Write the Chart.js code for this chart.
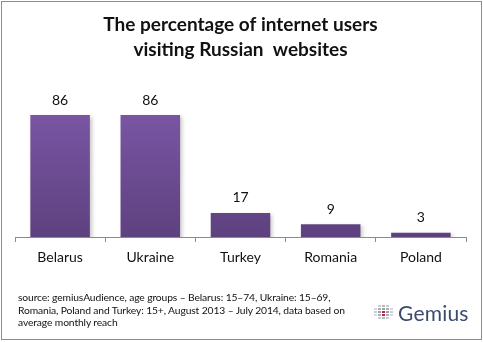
<!DOCTYPE html>
<html>
<head>
<meta charset="utf-8">
<script src="https://cdn.jsdelivr.net/npm/chart.js@4"></script>
<style>
  html, body { margin: 0; padding: 0; background: #fff; }
  body { width: 483px; height: 342px; position: relative; overflow: hidden; font-family: Lato, "Open Sans", sans-serif; }
  #wrap { position: absolute; left: 0; top: 0; width: 483px; height: 342px; }
  #frame { position: absolute; left: 1px; top: 1px; width: 479px; height: 337px; border: 1px solid #8c8c8c; pointer-events: none; }
  #nota { position: absolute; left: 18px; top: 291px; font-size: 10.3px; line-height: 12.6px; letter-spacing: -0.12px; color: #111; white-space: nowrap; }
  #logo { position: absolute; left: 374px; top: 301px; height: 22px; display: flex; align-items: center; }
  #icono { display: grid; grid-template-columns: repeat(5, 3px); grid-auto-rows: 2px; gap: 1px 1px; margin-right: 5px; }
  #icono span { display: block; width: 3px; height: 2px; }
  #logoTxt { font-size: 21px; color: #3b4a6e; letter-spacing: 0.2px; }
</style>
</head>
<body>
<div id="wrap"><canvas id="chartVisitas" width="483" height="342"></canvas></div>
<div id="frame"></div>
<div id="nota">source: gemiusAudience, age groups – Belarus: 15–74, Ukraine: 15–69,<br>Romania, Poland and Turkey: 15+, August 2013 – July 2014, data based on<br>average monthly reach</div>
<div id="logo"><div id="icono"></div><span id="logoTxt">Gemius</span></div>
<script>
// datos del grafico
const paises = ['Belarus', 'Ukraine', 'Turkey', 'Romania', 'Poland'];
const porcentajes = [86, 86, 17, 9, 3];
const titulo = ['The percentage of internet users', 'visiting Russian  websites'];

// icono del logo (cuadritos grises con uno rojo)
const tonos = [
    '', '#c9ccd3', '#b5b9c2', '#c9ccd3', '',
    '#d6d8de', '#a9adb8', '#9aa0ad', '#a9adb8', '#d6d8de',
    '#c9ccd3', '#9aa0ad', '#c0282d', '#9aa0ad', '#c9ccd3',
    '#d6d8de', '#a9adb8', '#c0282d', '#a9adb8', '#d6d8de',
    '', '#c9ccd3', '#b5b9c2', '#c9ccd3', ''
];
const icono = document.getElementById('icono');
tonos.forEach(t => {
    const s = document.createElement('span');
    if (t) s.style.background = t;
    icono.appendChild(s);
});

// etiquetas de valor encima de cada barra
const etiquetasValor = {
    id: 'etiquetasValor',
    afterDatasetsDraw(chart) {
        const ctx = chart.ctx;
        const meta = chart.getDatasetMeta(0);
        ctx.save();
        ctx.font = '14px Lato, "Open Sans", sans-serif';
        ctx.fillStyle = '#111';
        ctx.textAlign = 'center';
        ctx.textBaseline = 'middle';
        meta.data.forEach((bar, i) => {
            ctx.fillText(String(chart.data.datasets[0].data[i]), bar.x, bar.y - 15);
        });
        ctx.restore();
    }
};

// sombra suave de las barras
const sombraBarras = {
    id: 'sombraBarras',
    beforeDatasetDraw(chart) {
        const ctx = chart.ctx;
        ctx.save();
        ctx.shadowColor = 'rgba(0,0,0,0.22)';
        ctx.shadowBlur = 4;
        ctx.shadowOffsetX = 2;
        ctx.shadowOffsetY = 2;
    },
    afterDatasetDraw(chart) {
        chart.ctx.restore();
    }
};

function degradado(context) {
    const area = context.chart.chartArea;
    if (!area) return '#6f4d98';
    const g = context.chart.ctx.createLinearGradient(0, area.top, 0, area.bottom);
    g.addColorStop(0, '#7e58a9');
    g.addColorStop(1, '#5e417f');
    return g;
}

const ctx = document.getElementById('chartVisitas').getContext('2d');
new Chart(ctx, {
    type: 'bar',
    data: {
        labels: paises,
        datasets: [{
            data: porcentajes,
            backgroundColor: degradado,
            borderWidth: 0,
            categoryPercentage: 1,
            barPercentage: 0.66
        }]
    },
    options: {
        responsive: false,
        animation: false,
        layout: { padding: { left: 15, right: 17, bottom: 75, top: 0 } },
        plugins: {
            legend: { display: false },
            tooltip: { enabled: false },
            title: {
                display: true,
                text: titulo,
                color: '#111',
                font: { family: 'Lato, "Open Sans", sans-serif', size: 19, weight: 'bold', lineHeight: 1.32 },
                padding: { top: 12, bottom: 33 }
            }
        },
        scales: {
            x: {
                grid: { offset: true, drawOnChartArea: false, tickLength: 5, color: '#8a8a8a' },
                border: { color: '#8a8a8a' },
                ticks: { color: '#111', font: { family: 'Lato, "Open Sans", sans-serif', size: 14 }, padding: 7 },
                afterFit: (s) => { s.height = 30; }
            },
            y: {
                display: false,
                min: 0,
                max: 100
            }
        }
    },
    plugins: [sombraBarras, etiquetasValor]
});
</script>
</body>
</html>
